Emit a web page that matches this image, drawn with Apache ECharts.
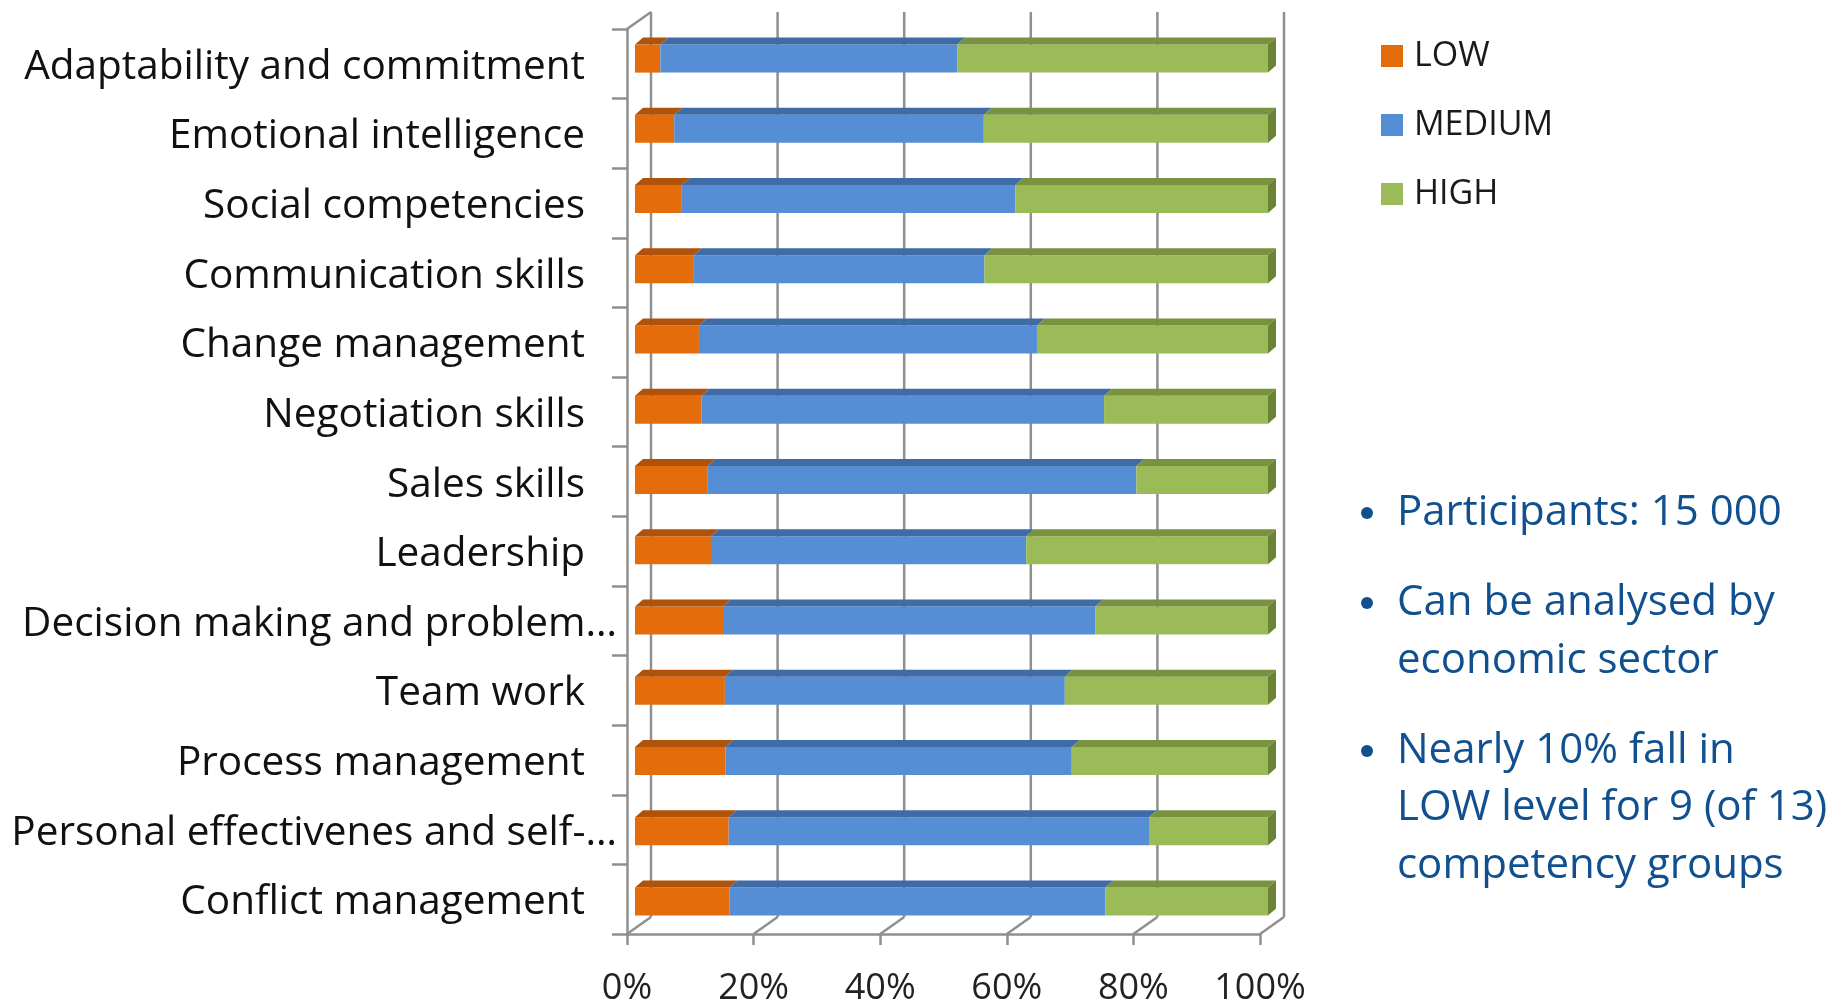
<!DOCTYPE html>
<html>
<head>
<meta charset="utf-8">
<script src="https://cdn.jsdelivr.net/npm/echarts@6/dist/echarts.min.js"></script>
<style>
html,body{margin:0;padding:0;background:#fff;}
#chart{width:1846px;height:1007px;}
</style>
</head>
<body>
<div id="chart"></div>
<script>
const categories = [
  'Adaptability and commitment',
  'Emotional intelligence',
  'Social competencies',
  'Communication skills',
  'Change management',
  'Negotiation skills',
  'Sales skills',
  'Leadership',
  'Decision making and problem\u2026',
  'Team work',
  'Process management',
  'Personal effectivenes and self-\u2026',
  'Conflict management'
];
const seriesNames = ['LOW', 'MEDIUM', 'HIGH'];
const lowValues    = [4.0, 6.2, 7.4, 9.3, 10.1, 10.5, 11.5, 12.0, 13.9, 14.2, 14.3, 14.8, 14.9];
const mediumValues = [46.9, 48.9, 52.7, 45.9, 53.4, 63.6, 67.7, 49.8, 58.8, 53.7, 54.7, 66.4, 59.4];
const highValues   = [49.1, 44.9, 39.9, 44.8, 36.5, 25.9, 20.8, 38.2, 27.3, 32.1, 31.0, 18.8, 25.7];
const xTicks = [0, 20, 40, 60, 80, 100];
const bulletLines = [
  ['Participants: 15 000'],
  ['Can be analysed by', 'economic sector'],
  ['Nearly 10% fall in', 'LOW level for 9 (of 13)', 'competency groups']
];

const FONT = '"Open Sans", "Noto Sans", sans-serif';
const frontColors = ['#E46C0A', '#558ED5', '#9BBB59'];
const topColors = ['#B0520A', '#3F6BA6', '#78923F'];
const endColor = '#6A8335';
const AXIS = '#8f8f8f';
const BAR_W = 28, BDX = 8, BDY = 7;   // bar depth
const WDX = 24, WDY = 17;             // wall depth

const chart = echarts.init(document.getElementById('chart'), null, {renderer: 'canvas'});

const gridFront = {left: 627, top: 29, width: 633, height: 913};
const gridBars = {left: 635, top: 23.5, width: 633, height: 913};

const graphics = [];
const baselines = [[529], [619, 677], [767, 824, 882]];
bulletLines.forEach((lines, b) => {
  graphics.push({type: 'circle', shape: {cx: 1367, cy: baselines[b][0] - 16, r: 6}, style: {fill: '#11508F'}});
  lines.forEach((t, k) => {
    graphics.push({type: 'text', x: 1397, y: baselines[b][k] - 16,
      style: {text: t, font: '42px ' + FONT, fill: '#11508F', verticalAlign: 'middle', align: 'left'}});
  });
});

const labelStyle = {fontFamily: FONT, fontSize: 40.5, color: '#111'};

const option = {
  animation: false,
  backgroundColor: '#fff',
  grid: [
    Object.assign({containLabel: false}, gridBars),
    Object.assign({containLabel: false}, gridFront)
  ],
  legend: {
    data: seriesNames,
    orient: 'vertical',
    left: 1376, top: 34,
    itemWidth: 22, itemHeight: 22, itemGap: 35,
    icon: 'rect',
    textStyle: {fontFamily: FONT, fontSize: 34, color: '#1a1a1a', padding: [0, 0, 0, 6]}
  },
  xAxis: [
    {type: 'value', gridIndex: 0, min: 0, max: 100, interval: 20, show: false},
    {type: 'value', gridIndex: 1, min: 0, max: 100, interval: 20,
     axisLine: {show: true, lineStyle: {color: AXIS, width: 2.5}},
     axisTick: {show: true, length: 11, lineStyle: {color: AXIS, width: 2.5}},
     splitLine: {show: false},
     axisLabel: {formatter: '{value}%', fontFamily: FONT, fontSize: 36, color: '#222', margin: 37}}
  ],
  yAxis: [
    {type: 'category', gridIndex: 0, inverse: true, data: categories, show: false},
    {type: 'category', gridIndex: 1, inverse: true, data: categories,
     axisLine: {show: true, lineStyle: {color: AXIS, width: 2.5}},
     axisTick: {show: true, length: 15, lineStyle: {color: AXIS, width: 2.5}},
     axisLabel: {
       margin: 10,
       formatter: function (v) { return (v.indexOf('\u2026') >= 0 ? '{t|' : '{n|') + v + '}'; },
       rich: {
         n: Object.assign({padding: [7, 32, 0, 0]}, labelStyle),
         t: Object.assign({padding: [7, 0, 0, 0]}, labelStyle)
       }
     }}
  ],
  series: [
    {
      type: 'custom', name: 'frame', xAxisIndex: 1, yAxisIndex: 1, z: 1,
      data: xTicks.map(v => [v, 0]),
      encode: {x: 0, y: 1},
      silent: true,
      renderItem: function (params, api) {
        const v = api.value(0);
        const cs = params.coordSys;
        const x = api.coord([v, 0])[0];
        const bottom = cs.y + cs.height, top = cs.y;
        const ls = {stroke: AXIS, lineWidth: 2.5};
        const children = [
          {type: 'line', shape: {x1: x + WDX, y1: top - WDY, x2: x + WDX, y2: bottom - WDY}, style: ls},
          {type: 'line', shape: {x1: x, y1: bottom, x2: x + WDX, y2: bottom - WDY}, style: ls}
        ];
        if (params.dataIndex === 0) {
          children.push({type: 'line', shape: {x1: x, y1: top, x2: x + WDX, y2: top - WDY}, style: ls});
        }
        return {type: 'group', children: children};
      }
    }
  ].concat(seriesNames.map((name, k) => ({
    type: 'bar', name: name, xAxisIndex: 0, yAxisIndex: 0, stack: 'total',
    barWidth: BAR_W, z: 2,
    itemStyle: {color: frontColors[k]},
    data: [lowValues, mediumValues, highValues][k]
  }))).concat([
    {
      type: 'custom', name: 'faces', xAxisIndex: 0, yAxisIndex: 0, z: 3, silent: true,
      data: categories.map((c, i) => [i, lowValues[i], mediumValues[i], highValues[i]]),
      encode: {y: 0, x: 1},
      renderItem: function (params, api) {
        const i = api.value(0);
        const segs = [api.value(1), api.value(2), api.value(3)];
        const c = api.coord([0, i]);
        const yTop = c[1] - BAR_W / 2, yBot = c[1] + BAR_W / 2;
        const children = [];
        let acc = 0;
        segs.forEach((v, k) => {
          const xa = api.coord([acc, i])[0];
          acc += v;
          const xb = api.coord([acc, i])[0];
          children.push({type: 'polygon', shape: {points: [[xa, yTop], [xb, yTop], [xb + BDX, yTop - BDY], [xa + BDX, yTop - BDY]]},
            style: {fill: topColors[k]}});
        });
        const xe = api.coord([acc, i])[0];
        children.push({type: 'polygon', shape: {points: [[xe, yTop], [xe + BDX, yTop - BDY], [xe + BDX, yBot - BDY], [xe, yBot]]},
          style: {fill: endColor}});
        return {type: 'group', children: children};
      }
    }
  ]),
  graphic: graphics
};
chart.setOption(option);
</script>
</body>
</html>
